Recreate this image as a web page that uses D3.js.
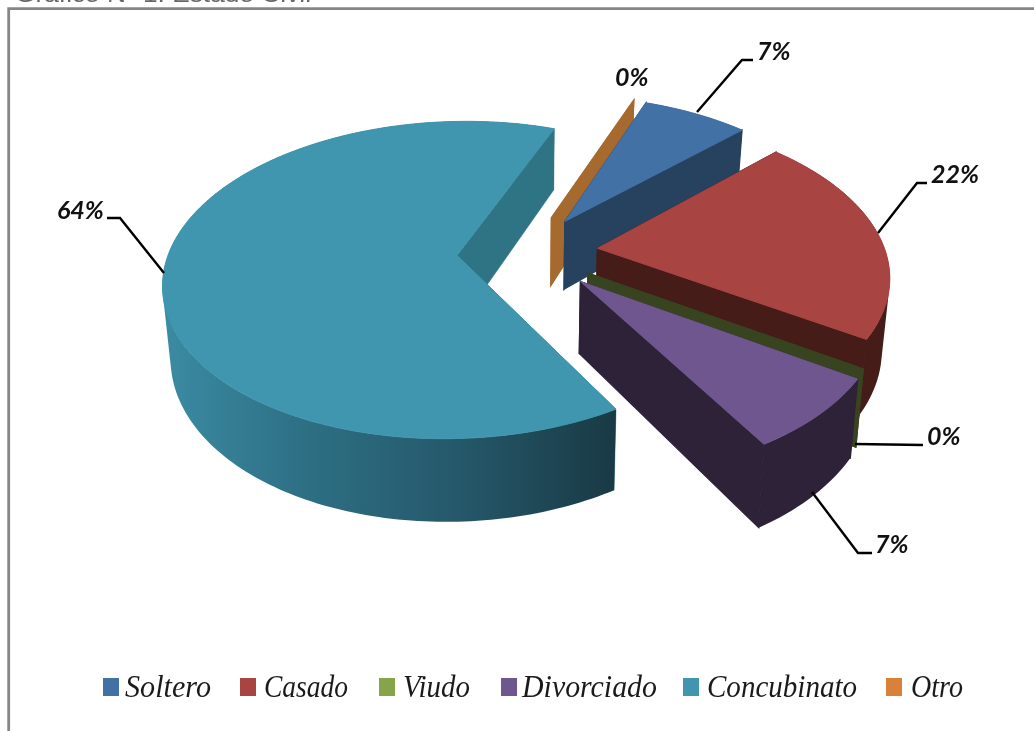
<!DOCTYPE html>
<html><head><meta charset="utf-8">
<script src="https://cdn.jsdelivr.net/npm/d3@7"></script>
<style>html,body{margin:0;padding:0;background:#fff;overflow:hidden}svg{display:block;filter:blur(0.45px)}</style>
</head><body><svg id="c" width="1034" height="731"></svg>
<script>
const categories = ["Soltero","Casado","Viudo","Divorciado","Concubinato","Otro"];
const values = [7,21.5,0,7.3,64.2,0];
const percentLabels = ["7%","22%","0%","7%","64%","0%"];
const titleText = "Gráfico Nº 1: Estado Civil";

const topColors  = ["#4271a6","#a84442","#86a44a","#70568f","#4096ae","#d98139"];
const wallColors = ["#27425f","#451c18","#38441f","#2d2238","#2f7485","#a76a2e"];
const explosions = [0.245,0.245,0.245,0.258,0.245,0.245];

// projection of the tilted, exploded pie
const P = {cx:527.5, cy:252, R:288, k:153.8, p:0.155, depth:70, shrink:0.022, first:20.5*Math.PI/180};
function project(u,v,z){
  const w = 1 - P.p*v;
  return [P.cx + P.R*u/w*(1-P.shrink*z), P.cy + (P.k*v + P.depth*z)/w];
}
const svg = d3.select("#c");
const defs = svg.append("defs");
const grad = defs.append("linearGradient").attr("id","concWall").attr("gradientUnits","userSpaceOnUse")
  .attr("x1",165).attr("x2",615).attr("y1",0).attr("y2",0);
[[0,"#3a8ba3"],[0.3,"#2e7085"],[0.65,"#25586a"],[1,"#193a45"]].forEach(s=>grad.append("stop").attr("offset",s[0]).attr("stop-color",s[1]));

// frame
svg.append("path").attr("d","M8.7,731V8.7H1034").attr("fill","none").attr("stroke","#868686").attr("stroke-width",2.8);
// clipped title
svg.append("text").attr("x",15).attr("y",1.5).attr("textLength",296).attr("lengthAdjust","spacingAndGlyphs")
  .style("font-family","'Liberation Sans'").style("font-size","22px").attr("fill","#666").text(titleText);

const arcs = d3.pie().sort(null).startAngle(P.first).endAngle(P.first+2*Math.PI)(values);
const line = d3.line();
const order = [5,0,1,2,3,4];
const g = svg.append("g");
order.forEach(i=>{
  const d = arcs[i], mid=(d.startAngle+d.endAngle)/2, ex=explosions[i];
  const pt = (a,r,z)=>project(r*Math.sin(a)+ex*Math.sin(mid), -r*Math.cos(a)-ex*Math.cos(mid), z);
  const n = Math.max(1,Math.ceil((d.endAngle-d.startAngle)/0.02));
  const as = d3.range(n+1).map(j=>d.startAngle+(d.endAngle-d.startAngle)*j/n);
  const topRim = as.map(a=>pt(a,1,0)), botRim = as.map(a=>pt(a,1,1));
  const A0 = pt(0,0,0), A1 = pt(0,0,1);
  const wall = wallColors[i];
  const isConc = categories[i]==="Concubinato";
  const outer = isConc ? "url(#concWall)" : wall;
  const face = j => g.append("path").attr("d",line([A0,topRim[j],botRim[j],A1])+"Z").attr("fill",wall).attr("stroke",wall).attr("stroke-width",isConc?0.5:1.2);
  face(0);
  // all wall quads in one path, wound the same way, so they fill without seams
  const quads = d3.range(n).map(j=>{
    const q=[topRim[j],topRim[j+1],botRim[j+1],botRim[j]];
    if(d3.polygonArea(q)<0) q.reverse();
    return line(q)+"Z";
  }).join("");
  g.append("path").attr("d",quads).attr("fill",outer);
  face(n);
  if(d.endAngle>d.startAngle){
    g.append("path").attr("d",line([A0].concat(topRim))+"Z").attr("fill",topColors[i]).attr("stroke",topColors[i]).attr("stroke-width",1);
  }
});

// leaders and labels
const labelLayout = [
 {pts:[[697,112],[742,60],[753,60]], x:757, y:60},
 {pts:[[878,233],[917,183],[927,183]], x:931, y:183},
 {pts:[[855,444],[923,445]], x:927, y:445},
 {pts:[[812,492],[858,553],[872,553]], x:875, y:553},
 {pts:[[164,273],[120,218],[107,218]], x:57, y:219},
 {pts:null, x:615, y:86}
];
labelLayout.forEach((l,i)=>{
  if(l.pts) svg.append("path").attr("d",line(l.pts)).attr("fill","none").attr("stroke","#000").attr("stroke-width",2.4).attr("stroke-linejoin","miter");
  svg.append("text").attr("x",l.x).attr("y",l.y)
    .style("font-family","Lato").style("font-style","italic").style("font-weight","700").style("font-size","25px")
    .attr("fill","#111").text(percentLabels[i]);
});

// legend
const legendSwatchX = [103,240,379,501,683,886];
const legendTextX = [[125,86],[264,84],[403,67],[522,135],[707,150],[911,52]];
categories.forEach((c,i)=>{
  svg.append("rect").attr("x",legendSwatchX[i]).attr("y",678).attr("width",16).attr("height",18).attr("fill",topColors[i]);
  svg.append("text").attr("x",legendTextX[i][0]).attr("y",697).attr("textLength",legendTextX[i][1]).attr("lengthAdjust","spacingAndGlyphs")
    .style("font-family","'Liberation Serif'").style("font-style","italic").style("font-size","31px").attr("fill","#1a1a1a").text(c);
});
</script></body></html>
